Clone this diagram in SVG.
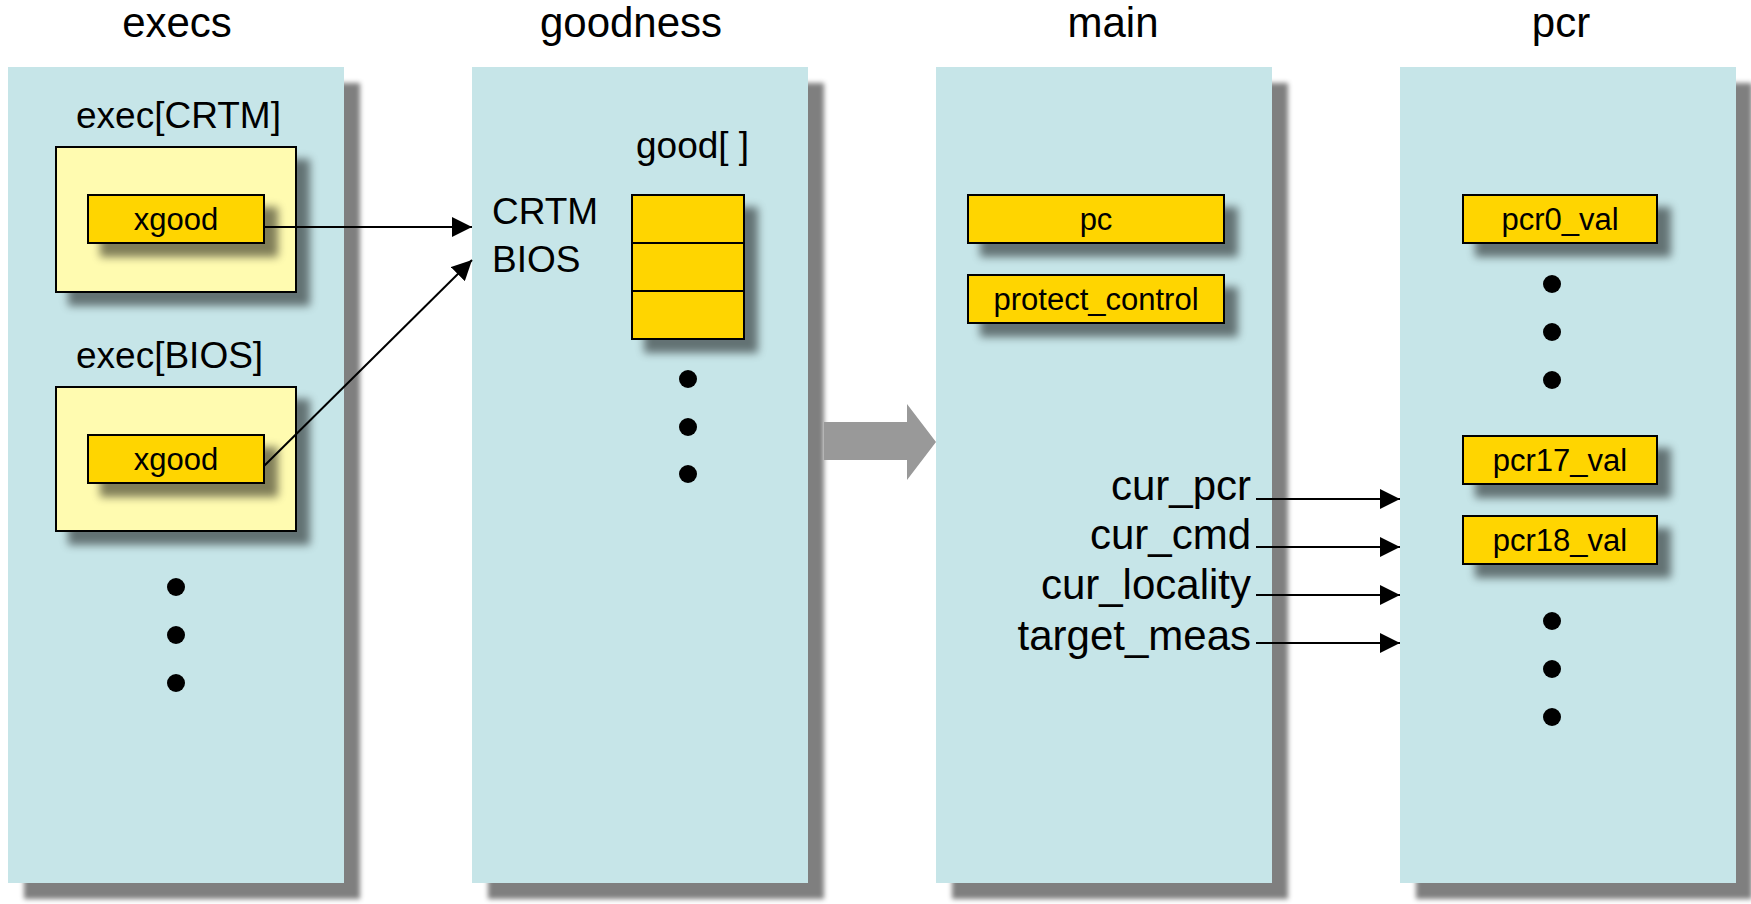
<svg xmlns="http://www.w3.org/2000/svg" width="1751" height="904" viewBox="0 0 1751 904">
  <defs>
    <style>
      text { font-family: "Liberation Sans", Arial, sans-serif; fill: #000; }
      .title { font-size: 42px; text-anchor: middle; }
      .lbl { font-size: 37px; }
      .fld { font-size: 31px; text-anchor: middle; }
      .var { font-size: 42px; text-anchor: end; }
      .panel { fill: #C6E5E8; }
      .frame { fill: #FFFBB0; stroke: #000; stroke-width: 2; }
      .cell { fill: #FFD500; stroke: #000; stroke-width: 2; }
      .dot { fill: #000; }
      .link { stroke: #000; stroke-width: 2; fill: none; marker-end: url(#head); }
      .flow { fill: #999999; }
    </style>
    <filter id="panelShadow" x="-10%" y="-10%" width="130%" height="130%">
      <feGaussianBlur in="SourceAlpha" stdDeviation="2.5"/>
      <feOffset dx="16" dy="16" result="b"/>
      <feFlood flood-color="#000" flood-opacity="0.5"/>
      <feComposite in2="b" operator="in"/>
      <feMerge><feMergeNode/><feMergeNode in="SourceGraphic"/></feMerge>
    </filter>
    <filter id="boxShadow" x="-20%" y="-40%" width="150%" height="200%">
      <feGaussianBlur in="SourceAlpha" stdDeviation="4"/>
      <feOffset dx="13" dy="13" result="b"/>
      <feFlood flood-color="#000" flood-opacity="0.5"/>
      <feComposite in2="b" operator="in"/>
      <feMerge><feMergeNode/><feMergeNode in="SourceGraphic"/></feMerge>
    </filter>
    <marker id="head" markerUnits="userSpaceOnUse" markerWidth="20" markerHeight="20" refX="20" refY="10" orient="auto">
      <path d="M0,0 L20,10 L0,20 z" fill="#000"/>
    </marker>
  </defs>

  <rect width="1751" height="904" fill="#fff"/>

  <!-- execs column -->
  <g id="execs">
    <text class="title" x="177" y="37">execs</text>
    <rect class="panel" x="8" y="67" width="336" height="816" filter="url(#panelShadow)"/>
    <g id="exec-crtm">
      <text class="lbl" x="76" y="128">exec[CRTM]</text>
      <rect class="frame" x="56" y="147" width="240" height="145" filter="url(#boxShadow)"/>
      <rect class="cell" x="88" y="195" width="176" height="48" filter="url(#boxShadow)"/>
      <text class="fld" x="176" y="230">xgood</text>
    </g>
    <g id="exec-bios">
      <text class="lbl" x="76" y="368">exec[BIOS]</text>
      <rect class="frame" x="56" y="387" width="240" height="144" filter="url(#boxShadow)"/>
      <rect class="cell" x="88" y="435" width="176" height="48" filter="url(#boxShadow)"/>
      <text class="fld" x="176" y="470">xgood</text>
    </g>
    <circle class="dot" cx="176" cy="587" r="9"/>
    <circle class="dot" cx="176" cy="635" r="9"/>
    <circle class="dot" cx="176" cy="683" r="9"/>
  </g>

  <!-- goodness column -->
  <g id="goodness">
    <text class="title" x="631" y="37">goodness</text>
    <rect class="panel" x="472" y="67" width="336" height="816" filter="url(#panelShadow)"/>
    <text class="lbl" x="492" y="224">CRTM</text>
    <text class="lbl" x="492" y="272">BIOS</text>
    <text class="lbl" x="636" y="158">good[ ]</text>
    <g id="good-array">
      <rect class="cell" x="632" y="195" width="112" height="144" filter="url(#boxShadow)"/>
      <line x1="632" y1="243" x2="744" y2="243" stroke="#000" stroke-width="2"/>
      <line x1="632" y1="291" x2="744" y2="291" stroke="#000" stroke-width="2"/>
    </g>
    <circle class="dot" cx="688" cy="379" r="9"/>
    <circle class="dot" cx="688" cy="427" r="9"/>
    <circle class="dot" cx="688" cy="474" r="9"/>
  </g>

  <!-- main column -->
  <g id="main">
    <text class="title" x="1113" y="37">main</text>
    <rect class="panel" x="936" y="67" width="336" height="816" filter="url(#panelShadow)"/>
    <g id="pc">
      <rect class="cell" x="968" y="195" width="256" height="48" filter="url(#boxShadow)"/>
      <text class="fld" x="1096" y="230">pc</text>
    </g>
    <g id="protect-control">
      <rect class="cell" x="968" y="275" width="256" height="48" filter="url(#boxShadow)"/>
      <text class="fld" x="1096" y="310">protect_control</text>
    </g>
    <text class="var" x="1251" y="500">cur_pcr</text>
    <text class="var" x="1251" y="549">cur_cmd</text>
    <text class="var" x="1251" y="599">cur_locality</text>
    <text class="var" x="1251" y="650">target_meas</text>
  </g>

  <!-- pcr column -->
  <g id="pcr">
    <text class="title" x="1561" y="37">pcr</text>
    <rect class="panel" x="1400" y="67" width="336" height="816" filter="url(#panelShadow)"/>
    <g id="pcr0">
      <rect class="cell" x="1463" y="195" width="194" height="48" filter="url(#boxShadow)"/>
      <text class="fld" x="1560" y="230">pcr0_val</text>
    </g>
    <circle class="dot" cx="1552" cy="284" r="9"/>
    <circle class="dot" cx="1552" cy="332" r="9"/>
    <circle class="dot" cx="1552" cy="380" r="9"/>
    <g id="pcr17">
      <rect class="cell" x="1463" y="436" width="194" height="48" filter="url(#boxShadow)"/>
      <text class="fld" x="1560" y="471">pcr17_val</text>
    </g>
    <g id="pcr18">
      <rect class="cell" x="1463" y="516" width="194" height="48" filter="url(#boxShadow)"/>
      <text class="fld" x="1560" y="551">pcr18_val</text>
    </g>
    <circle class="dot" cx="1552" cy="621" r="9"/>
    <circle class="dot" cx="1552" cy="669" r="9"/>
    <circle class="dot" cx="1552" cy="717" r="9"/>
  </g>

  <!-- connectors -->
  <g id="connectors">
    <line class="link" x1="264" y1="227" x2="472" y2="227"/>
    <line class="link" x1="264" y1="466" x2="472" y2="260"/>
    <line class="link" x1="1256" y1="499" x2="1400" y2="499"/>
    <line class="link" x1="1256" y1="547" x2="1400" y2="547"/>
    <line class="link" x1="1256" y1="595" x2="1400" y2="595"/>
    <line class="link" x1="1256" y1="643" x2="1400" y2="643"/>
    <polygon class="flow" points="824,422 907,422 907,404 936,442 907,480 907,460 824,460"/>
  </g>
</svg>
